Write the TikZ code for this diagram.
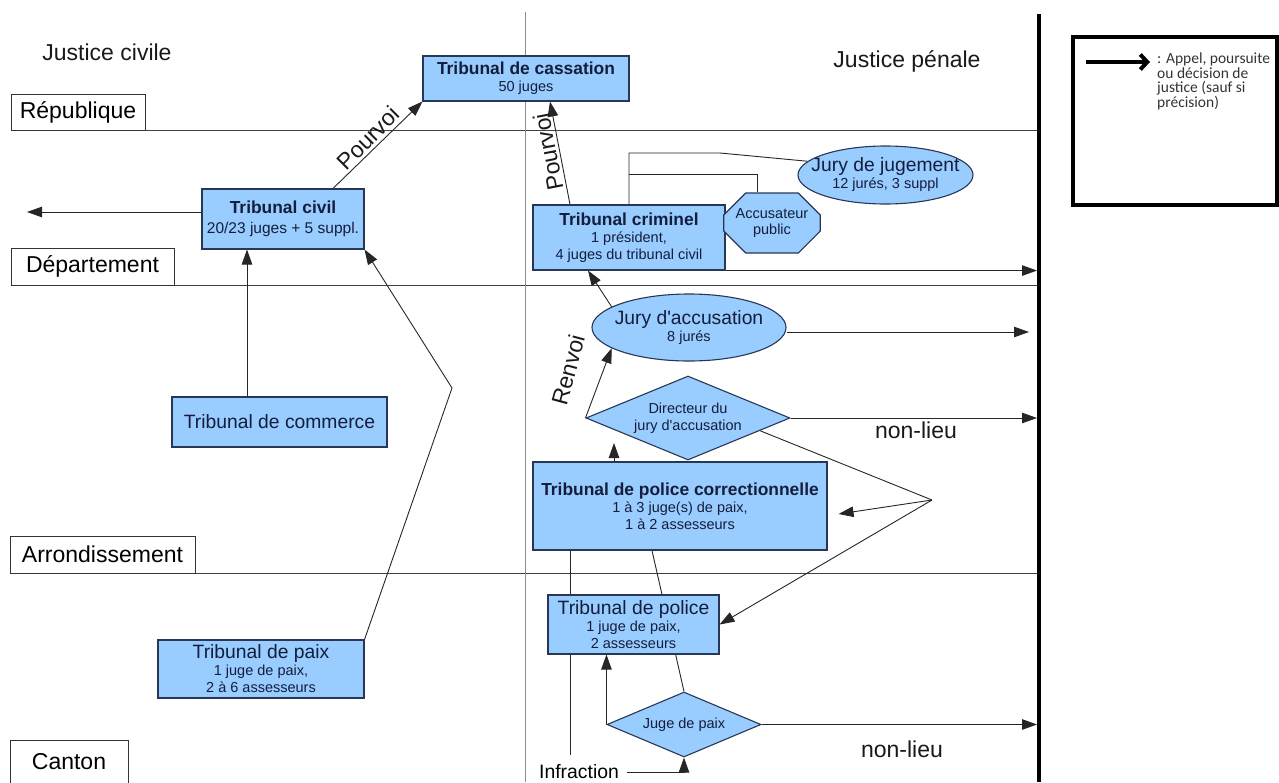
\documentclass[tikz,border=0pt]{standalone}
\usepackage{fontspec}
\setmainfont{Liberation Sans}
\newfontfamily\legfont{Carlito}
\usetikzlibrary{arrows.meta,shapes.geometric,shapes.misc,calc}
\pgfdeclarelayer{bg}
\pgfsetlayers{bg,main}
\definecolor{boxfill}{RGB}{153,204,255}
\definecolor{boxdraw}{RGB}{40,55,85}
\definecolor{boxtext}{RGB}{20,30,60}
\newcommand{\boxtitle}[1]{{\fontsize{17.4}{20}\selectfont\bfseries #1}}
\newcommand{\boxreg}[1]{{\fontsize{19.3}{22}\selectfont #1}}
\begin{document}
\begin{tikzpicture}[x=1pt,y=-1pt,
  lvlbox/.style={draw=black!80, fill=white, line width=0.8pt, font=\fontsize{23}{26}\selectfont, inner sep=0pt},
  bigtxt/.style={font=\fontsize{23}{26}\selectfont, inner sep=0pt, text=black!90},
  tbox/.style={draw=boxdraw, fill=boxfill, line width=1.1pt, text=boxtext, align=center, inner sep=1pt, font=\fontsize{14.5}{17}\selectfont},
  ell/.style={ellipse, draw=boxdraw, fill=boxfill, line width=1.1pt, inner sep=0pt},
  elltxt/.style={align=center, text=boxtext, inner sep=0pt, font=\fontsize{14.5}{17}\selectfont},
  oct/.style={chamfered rectangle, chamfered rectangle xsep=11pt, chamfered rectangle ysep=11pt, draw=boxdraw, fill=boxfill, line width=1.1pt, text=boxtext, align=center, inner sep=1pt, font=\fontsize{14.5}{16}\selectfont},
  dia/.style={diamond, draw=boxdraw, fill=boxfill, line width=1.1pt, text=boxtext, align=center, inner sep=0pt, font=\fontsize{14.5}{17}\selectfont},
  lvl/.style={draw=black!75, line width=1.4pt},
  conn/.style={draw=black!85, line width=0.9pt},
  arr/.style={conn, -{Triangle[length=15pt,width=10.5pt]}}
]
\useasboundingbox (0,0) rectangle (1279,782);

% frame coordinates
\coordinate (gtop) at (525,12);
\coordinate (gbot) at (525,782);
\coordinate (thtop) at (1039,14);
\coordinate (thbot) at (1039,782);
\coordinate (thl) at (1037,14);
\coordinate (leftend) at (27,212);
\coordinate (kink) at (452,388);
\coordinate (b1) at (629,153);
\coordinate (b2) at (720,153);
\coordinate (b3) at (629,174);
\coordinate (b4) at (757,174);
\coordinate (jaccend) at (1029,332);
\coordinate (dirtip) at (614,443);
\coordinate (apex) at (932,500);
\coordinate (vend) at (570,755);
\coordinate (la1) at (1086,62);
\coordinate (la2) at (1150,62);

% level labels
\node[lvlbox, minimum width=134, minimum height=36] (rep) at (78,112) {République};
\node[lvlbox, minimum width=163, minimum height=37] (dep) at (92.5,266.5) {Département};
\node[lvlbox, minimum width=185, minimum height=37] (arr) at (102.5,554.5) {Arrondissement};
\node[lvlbox, minimum width=118, minimum height=44] (can) at (69,762) {Canton};

\node[bigtxt] (jc) at (107,52) {Justice civile};
\node[bigtxt] (jp) at (907,61) {Justice pénale};

% boxes
\node[tbox, minimum width=206, minimum height=45] (cass) at (526,78.5) {\boxtitle{Tribunal de cassation}\\50 juges};
\node[tbox, minimum width=162, minimum height=60] (civil) at (283,219) {\boxtitle{Tribunal civil}\\[3pt]{\fontsize{15.5}{18}\selectfont 20/23 juges + 5 suppl.}};
\node[tbox, minimum width=215, minimum height=50] (comm) at (279.5,422) {\boxreg{Tribunal de commerce}};
\node[tbox, minimum width=206, minimum height=58] (paix) at (261,669) {\boxreg{Tribunal de paix}\\1 juge de paix,\\2 à 6 assesseurs};
\node[tbox, minimum width=192, minimum height=65] (crim) at (629,237.5) {\boxtitle{Tribunal criminel}\\1 président,\\4 juges du tribunal civil};
\node[oct, minimum width=92, minimum height=60] (accus) at (772,223) {Accusateur\\public};
\node[ell, minimum width=175, minimum height=58] (jjug) at (885.5,175) {};
\node[elltxt] (jjugt) at (jjug) {\boxreg{Jury de jugement}\\12 jurés, 3 suppl};
\node[ell, minimum width=194, minimum height=67] (jacc) at (689,327.5) {};
\node[elltxt] (jacct) at (jacc) {\boxreg{Jury d\textquotesingle accusation}\\8 jurés};
\node[dia, minimum width=204, minimum height=84, aspect=2.43] (dir) at (688,418) {Directeur du\\jury d\textquotesingle accusation};
\node[tbox, minimum width=294, minimum height=88] (corr) at (680,506) {\boxtitle{Tribunal de police correctionnelle}\\1 à 3 juge(s) de paix,\\1 à 2 assesseurs};
\node[tbox, minimum width=171, minimum height=59] (pol) at (633.5,624.5) {\boxreg{Tribunal de police}\\1 juge de paix,\\2 assesseurs};
\node[dia, minimum width=154, minimum height=65, aspect=2.37] (juge) at (684,724.5) {Juge de paix};
\node[font=\fontsize{19.4}{22}\selectfont, inner sep=0pt] (infr) at (579,772) {Infraction};

% labels
\node[bigtxt, rotate=45] (pv1) at (368,138) {Pourvoi};
\node[bigtxt, rotate=101] (pv2) at (548,152) {Pourvoi};
\node[bigtxt, rotate=75] (rv) at (568,370) {Renvoi};
\node[bigtxt] (nl1) at (916,430) {non-lieu};
\node[bigtxt] (nl2) at (902,749) {non-lieu};

% legend
\node[draw=black, line width=4pt, minimum width=204, minimum height=168] (leg) at (1175,121) {};
\draw[line width=4pt, -{Straight Barb[length=7pt,width=15pt]}] (la1) -- (la2);
\node[anchor=north west, align=left, inner sep=0pt, text=black!80, font=\legfont\fontsize{15.5}{14.5}\selectfont] (legt) at (1157,53) {: Appel, poursuite\\ou décision de\\justice (sauf si\\précision)};

\begin{pgfonlayer}{bg}
  \draw[lvl] (rep.south west) -- (rep.south west -| thtop);
  \draw[lvl] (dep.south west) -- (dep.south west -| thtop);
  \draw[lvl] (arr.south west) -- (arr.south west -| thtop);
  \draw[draw=black!45, line width=1pt] (gtop) -- (gbot);
  % civil side
  \draw[arr] ([yshift=7pt]civil.west) -- (leftend);
  \draw[arr] ([xshift=50pt]civil.north) -- (cass.south west);
  \draw[arr] ([xshift=-32.5pt]comm.north) -- ([xshift=-36pt]civil.south);
  \draw[arr] (paix.north east) -- (kink) -- (civil.south east);
  % penal side
  \draw[arr] ([xshift=-59pt]crim.north) -- ([xshift=24pt]cass.south);
  \draw[conn] (crim.north) -- (b1) -- (b2) -- (jjug.170);
  \draw[conn] (b3) -- (b4) -- ([xshift=-15pt]accus.north);
  \draw[arr] (crim.south east) -- (crim.south east -| thl);
  \draw[arr] (jacc.165) -- ([xshift=-41pt]crim.south);
  \draw[arr] ([yshift=-4.5pt]jacc.east) -- (jaccend);
  \draw[arr] (dir.west) -- (jacc.195);
  \draw[arr] (dir.east) -- (dir.east -| thl);
  \draw[arr] ([xshift=-66pt]corr.north) -- (dirtip);
  \draw[conn] (dir.-10) -- (apex);
  \draw[arr] (apex) -- ([xshift=11pt,yshift=-8pt]corr.east);
  \draw[arr] (apex) -- (pol.east);
  \draw[conn] ([xshift=-110pt]corr.south) -- (vend);
  \draw[conn] (juge.north) -- ([xshift=-28pt]corr.south);
  \draw[arr] (juge.west) -- (juge.west |- pol.south);
  \draw[arr] (juge.east) -- (juge.east -| thl);
  \draw[arr] ([xshift=8pt]infr.east) -| (juge.south);
\end{pgfonlayer}
\draw[line width=4pt] (thtop) -- (thbot);
\end{tikzpicture}
\end{document}
